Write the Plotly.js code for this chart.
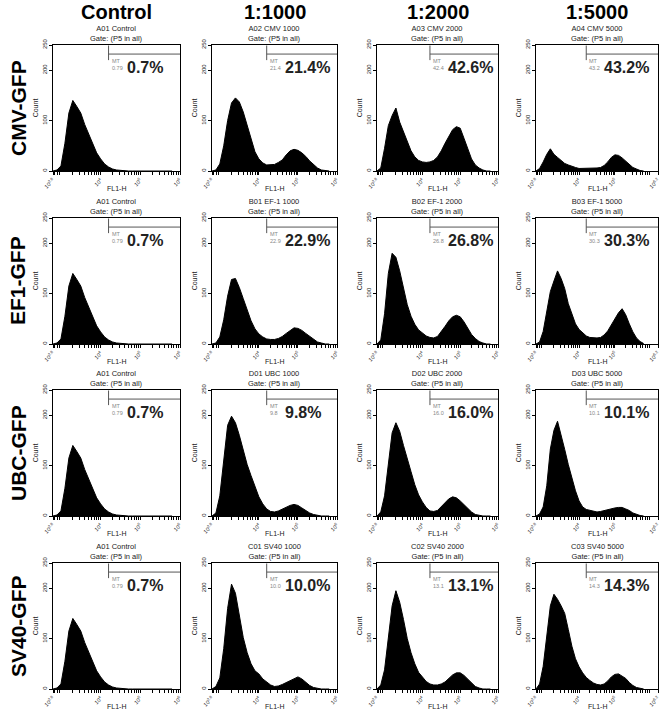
<!DOCTYPE html>
<html><head><meta charset="utf-8">
<script src="https://cdn.plot.ly/plotly-3.0.1.min.js"></script>
<style>html,body{margin:0;padding:0;background:#fff}#c{width:669px;height:722px}</style>
</head><body><div id="c"></div>
<script>
// log10(FL1-H) bin centres
const bins = [2.8,2.9,3.0,3.1,3.2,3.3,3.4,3.5,3.6,3.7,3.8,3.9,4.0,4.1,4.2,4.3,4.4,4.5,4.6,4.7,4.8,4.9,5.0,5.1,5.2,5.3,5.4,5.5,5.6,5.7,5.8];

const control = [0,2,10,55,115,140,128,115,92,72,52,36,24,14,8,4,2,1,1,0,0,0,0,0,0,0,0,0,0,0,0];
const cmv1000 = [0,2,14,50,100,135,145,137,117,90,60,38,24,16,12,12,13,17,22,32,40,43,41,36,29,20,12,6,2,1,0];
const cmv2000 = [0,6,45,90,110,125,97,78,56,40,28,21,18,17,18,21,28,40,55,70,82,88,85,65,44,24,12,6,2,0,0];
const cmv5000 = [0,5,18,33,44,33,27,21,15,12,9,7,5,5,5,5,5,6,7,11,18,27,32,31,26,20,13,7,4,1,0];
const ef1000  = [0,2,14,48,95,128,130,112,90,66,46,30,20,14,10,9,9,11,15,21,27,32,31,27,21,15,9,4,2,0,0];
const ef2000  = [0,8,60,140,180,172,145,110,78,55,39,28,21,16,13,12,15,24,35,46,54,57,54,44,32,19,11,5,2,0,0];
const ef5000  = [0,4,25,68,104,125,145,130,110,80,58,40,29,22,16,13,12,12,13,18,26,38,52,62,70,58,40,24,12,5,1];
const ubc1000 = [0,6,40,115,180,198,185,160,128,102,80,58,38,24,14,9,8,10,14,18,21,23,21,16,11,6,3,1,0,0,0];
const ubc2000 = [0,8,40,105,165,185,168,140,112,88,62,42,28,17,10,9,11,18,27,34,38,36,30,22,14,8,3,1,0,0,0];
const ubc5000 = [0,4,18,60,133,170,188,162,132,102,75,50,30,18,13,11,9,8,9,11,13,15,16,17,17,14,11,6,3,1,0];
const sv1000  = [0,5,22,80,160,208,190,145,102,72,50,36,30,20,13,8,5,6,9,13,17,21,24,20,13,7,3,1,0,0,0];
const sv2000  = [0,8,38,100,165,195,172,138,100,72,50,33,24,15,10,8,8,10,14,21,28,32,32,27,19,11,5,2,0,0,0];
const sv5000  = [0,10,45,110,165,188,178,165,150,118,85,60,44,32,23,17,12,9,8,10,16,24,29,30,26,21,13,7,3,1,0];

const rowLabels = ['CMV-GFP','EF1-GFP','UBC-GFP','SV40-GFP'];
const colLabels = ['Control','1:1000','1:2000','1:5000'];
const series = [
  [control, cmv1000, cmv2000, cmv5000],
  [control, ef1000, ef2000, ef5000],
  [control, ubc1000, ubc2000, ubc5000],
  [control, sv1000, sv2000, sv5000]
];
const sampleNames = [
  ['A01 Control','A02 CMV 1000','A03 CMV 2000','A04 CMV 5000'],
  ['A01 Control','B01 EF-1 1000','B02 EF-1 2000','B03 EF-1 5000'],
  ['A01 Control','D01 UBC 1000','D02 UBC 2000','D03 UBC 5000'],
  ['A01 Control','C01 SV40 1000','C02 SV40 2000','C03 SV40 5000']
];
const pctBig = [
  ['0.7%','21.4%','42.6%','43.2%'],
  ['0.7%','22.9%','26.8%','30.3%'],
  ['0.7%','9.8%','16.0%','10.1%'],
  ['0.7%','10.0%','13.1%','14.3%']
];
const pctSmall = [
  ['0.79','21.4','42.4','43.2'],
  ['0.79','22.9','26.8','30.3'],
  ['0.79','9.8','16.0','10.1'],
  ['0.79','10.0','13.1','14.3']
];
const gateStart = 4.2;   // MT gate lower bound (log10 FL1-H)
const gateLevel = 232;   // height of the gate bar (counts)
const xMaxByCol = [6.0, 6.0, 6.0, 6.2];
const xTickVals = [[2.8,4,5,6],[2.8,4,5,6],[2.8,4,5,6],[2.8,4,5,6.2]];
const xTickText = [
  ['10<sup>2.8</sup>','10<sup>4</sup>','10<sup>5</sup>','10<sup>6</sup>'],
  ['10<sup>2.8</sup>','10<sup>4</sup>','10<sup>5</sup>','10<sup>6</sup>'],
  ['10<sup>2.8</sup>','10<sup>4</sup>','10<sup>5</sup>','10<sup>6</sup>'],
  ['10<sup>2.8</sup>','10<sup>4</sup>','10<sup>5</sup>','10<sup>6.2</sup>']
];

// layout geometry (pixels)
const W = 669, H = 722;
const colPx = [[53,180],[212,337],[377,498],[536,658]];
const rowPx = [[45,171],[218,344],[390,516],[563,689]];

const minorVals = [];
for (let n = 2; n <= 6; n++) for (let k = 2; k <= 9; k++) {
  const v = Math.log10(k * Math.pow(10, n));
  if (v > 2.8 && v < 6.2) minorVals.push(+v.toFixed(4));
}

const FONT = 'Liberation Sans, Arial, sans-serif';
const traces = [];
const layout = {
  width: W, height: H, margin: {l:0, r:0, t:0, b:0},
  paper_bgcolor: '#fff', plot_bgcolor: '#fff',
  showlegend: false, font: {family: FONT, color: '#000'},
  annotations: []
};

for (let r = 0; r < 4; r++) {
  for (let c = 0; c < 4; c++) {
    const i = r * 4 + c + 1;
    const xa = i === 1 ? 'x' : 'x' + i;
    const ya = i === 1 ? 'y' : 'y' + i;
    const xk = i === 1 ? 'xaxis' : 'xaxis' + i;
    const yk = i === 1 ? 'yaxis' : 'yaxis' + i;
    const xMax = xMaxByCol[c];
    traces.push({
      type: 'scatter', mode: 'lines', x: bins, y: series[r][c],
      xaxis: xa, yaxis: ya, fill: 'tozeroy', fillcolor: '#000',
      line: {color: '#000', width: 1, shape: 'linear'}, hoverinfo: 'skip'
    });
    traces.push({
      type: 'scatter', mode: 'lines',
      x: [gateStart, gateStart, null, gateStart, xMax],
      y: [249, 220, null, gateLevel, gateLevel],
      xaxis: xa, yaxis: ya, line: {color: '#555', width: 1}, hoverinfo: 'skip'
    });
    layout[xk] = {
      domain: [colPx[c][0]/W, colPx[c][1]/W], anchor: ya,
      range: [2.8, xMax], showgrid: false, zeroline: false,
      showline: true, linecolor: '#000', linewidth: 1, mirror: true,
      ticks: 'outside', ticklen: 3, tickcolor: '#000',
      tickmode: 'array', tickvals: xTickVals[c], ticktext: xTickText[c],
      tickangle: -45, tickfont: {size: 5.5, color: '#222'},
      minor: {tickmode: 'array', tickvals: minorVals, ticks: 'outside', ticklen: 3, tickcolor: '#000'}
    };
    layout[yk] = {
      domain: [1 - rowPx[r][1]/H, 1 - rowPx[r][0]/H], anchor: xa,
      range: [0, 250], showgrid: false, zeroline: false,
      showline: true, linecolor: '#000', linewidth: 1, mirror: true,
      ticks: 'outside', ticklen: 3, tickcolor: '#000',
      tickmode: 'array', tickvals: [0,100,200,250],
      tickangle: -90, tickfont: {size: 6, color: '#222'},
      title: {text: 'Count', font: {size: 7, color: '#222'}, standoff: 2}
    };
    layout.annotations.push({
      xref: xa + ' domain', yref: ya + ' domain', x: 0.5, y: 0, yshift: -12,
      xanchor: 'center', yanchor: 'top', showarrow: false,
      text: 'FL1-H', font: {size: 7, color: '#222'}
    });
    layout.annotations.push({
      xref: xa + ' domain', yref: ya + ' domain', x: 0.5, y: 1, yshift: 0,
      xanchor: 'center', yanchor: 'bottom', showarrow: false,
      text: sampleNames[r][c] + '<br>Gate: (P5 in all)',
      font: {size: 7.5, color: '#222'}
    });
    layout.annotations.push({
      xref: xa, yref: ya, x: gateStart, y: 228, xshift: 1,
      xanchor: 'left', yanchor: 'top', showarrow: false, align: 'left',
      text: 'MT<br>' + pctSmall[r][c], font: {size: 5.5, color: '#888'}
    });
    layout.annotations.push({
      xref: xa, yref: ya, x: 4.2, y: 205, xshift: 16,
      xanchor: 'left', yanchor: 'middle', showarrow: false,
      text: '<b>' + pctBig[r][c] + '</b>', font: {size: 16, color: '#222'}
    });
  }
}

colLabels.forEach((t, c) => {
  layout.annotations.push({
    xref: 'paper', yref: 'paper', x: (colPx[c][0] + colPx[c][1]) / 2 / W, y: 1 - 12/H,
    xanchor: 'center', yanchor: 'middle', showarrow: false,
    text: '<b>' + t + '</b>', font: {size: 20, color: '#000'}
  });
});
rowLabels.forEach((t, r) => {
  layout.annotations.push({
    xref: 'paper', yref: 'paper', x: 18/W, y: 1 - (rowPx[r][0] + rowPx[r][1]) / 2 / H,
    xanchor: 'center', yanchor: 'middle', showarrow: false, textangle: -90,
    text: '<b>' + t + '</b>', font: {size: 21, color: '#000'}
  });
});

Plotly.newPlot('c', traces, layout, {staticPlot: true, displayModeBar: false});
</script>
</body></html>
